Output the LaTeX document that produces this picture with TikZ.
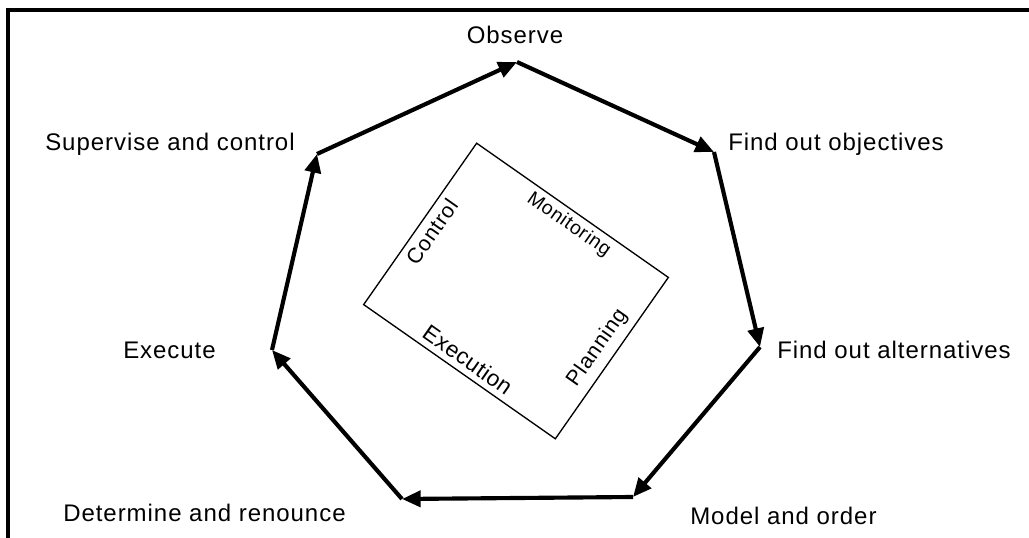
\documentclass[tikz,border=0pt]{standalone}
\usepackage{fontspec}
\setmainfont{Liberation Sans}
\newfontfamily\steptextfont[LetterSpace=4]{Liberation Sans}
\newfontfamily\areatextfont[LetterSpace=4]{Liberation Sans}
\newfontfamily\areatextwide[LetterSpace=2]{Liberation Sans}
\usetikzlibrary{arrows.meta}

\begin{document}
\begin{tikzpicture}[x=0.75pt,y=-0.75pt,
  steplabel/.style={font=\steptextfont\fontsize{18pt}{21pt}\selectfont, inner sep=0pt},
  arealabel/.style={font=\areatextfont\fontsize{#1}{18pt}\selectfont},
  arealabel/.default=15pt,
  cycleedge/.style={line width=3.1pt, -{Triangle[length=14pt,width=12pt]}},
  frameline/.style={line width=2.3pt},
  areabox/.style={draw, line width=1pt, minimum width=175.5pt, minimum height=147.75pt, rotate=-35}
]
\useasboundingbox (0,0) rectangle (1029,538);

% open frame: left and top sides
\coordinate (fbl) at (8,538);
\coordinate (ftl) at (8,10);
\coordinate (ftr) at (1029,10);
\draw[frameline] (fbl) -- (ftl) -- (ftr);

% corners of the cycle
\coordinate (obs) at (517,62);
\coordinate (obj) at (714,152);
\coordinate (alt) at (760,347);
\coordinate (mod) at (633,497);
\coordinate (det) at (402,499);
\coordinate (exe) at (272,350);
\coordinate (sup) at (317,154);

\draw[cycleedge] (obs) -- (obj);
\draw[cycleedge] (obj) -- (alt);
\draw[cycleedge] (alt) -- (mod);
\draw[cycleedge] (mod) -- (det);
\draw[cycleedge] (det) -- (exe);
\draw[cycleedge] (exe) -- (sup);
\draw[cycleedge] (sup) -- (obs);

% step names
\node[steplabel, anchor=base] (tobs) at (515,44) {Observe};
\node[steplabel, anchor=base west] (tobj) at (728,151) {Find out objectives};
\node[steplabel, anchor=base west] (talt) at (777,359) {Find out alternatives};
\node[steplabel, anchor=base west] (tmod) at (690,524) {Model and order};
\node[steplabel, anchor=base west] (tdet) at (63,521.5) {Determine and renounce};
\node[steplabel, anchor=base west] (texe) at (123,359) {Execute};
\node[steplabel, anchor=base west] (tsup) at (45,151) {Supervise and control};

% tilted box with the four activity areas
\node[areabox] (box) at (516,291) {};
\node[arealabel=14.5pt, inner sep=4pt, rotate=-35, anchor=north, xshift=4pt] (mon) at (box.north) {Monitoring};
\node[arealabel=16pt, inner sep=5pt, rotate=55, anchor=north] (con) at (box.west) {Control};
\node[font=\areatextwide\fontsize{17pt}{19pt}\selectfont, inner sep=5pt, rotate=-35, anchor=south] (exa) at (box.south) {Execution};
\node[arealabel=16pt, inner sep=6pt, rotate=55, anchor=south] (pla) at (box.east) {Planning};
\end{tikzpicture}
\end{document}
